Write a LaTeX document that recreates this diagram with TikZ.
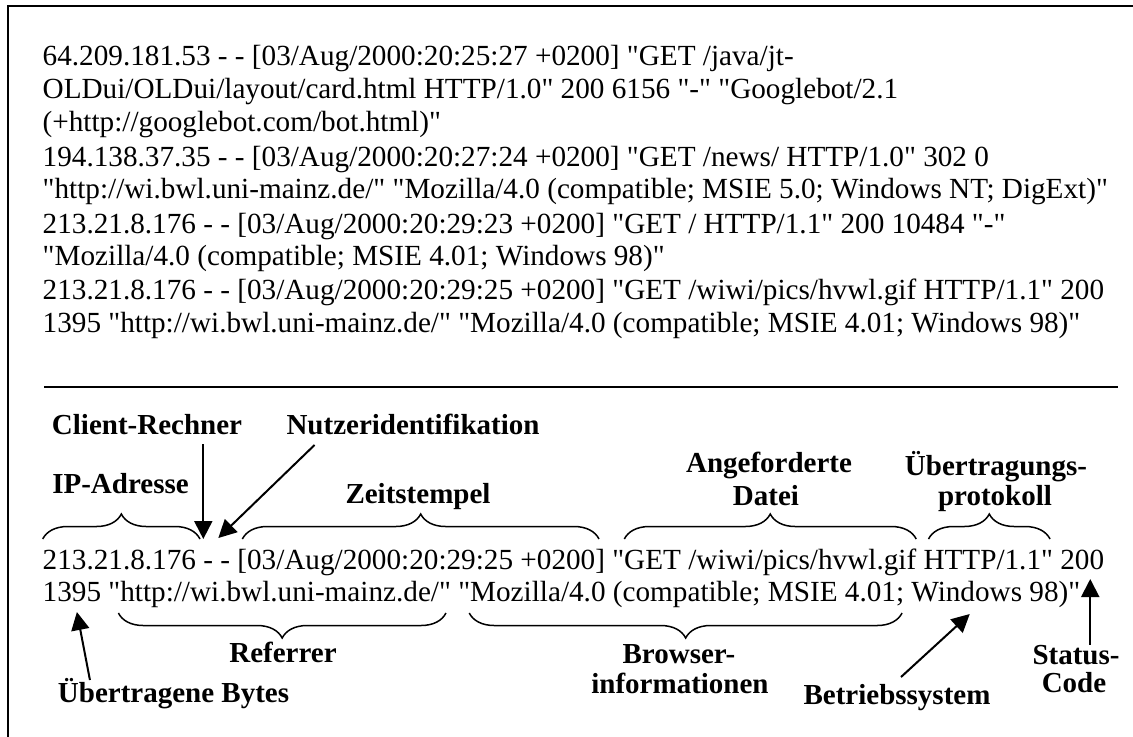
\documentclass[tikz,border=0pt]{standalone}
\usepackage{fontspec}
\setmainfont{Liberation Serif}[Ligatures=TeXOff]
\usetikzlibrary{arrows.meta,decorations.pathreplacing,calc}
\newlength\spw
\setlength\spw{3.65pt}
\begin{document}
\begin{tikzpicture}[x=0.5pt,y=0.5pt,
  txt/.style={inner sep=0pt,outer sep=0pt,anchor=base west,font=\fontsize{14.6}{16}\selectfont},
  lbl/.style={inner sep=0pt,outer sep=0pt,anchor=base,font=\fontsize{14.5}{16}\selectfont\bfseries},
  brc/.style={decorate,decoration={brace,amplitude=12.5pt},line width=0.75pt},
  brcd/.style={decorate,decoration={brace,mirror,amplitude=12.5pt},line width=0.75pt},
  arr/.style={line width=1pt,-{Triangle[length=9pt,width=9pt]}},
  rulestyle/.style={line width=1pt}]
\useasboundingbox (0,0) rectangle (1133,-736);
% frame
\draw[line width=1.1pt] (8,-740) -- (8,-6) -- (1140,-6);
% log lines
\node[txt] (l1) at (42.7,-65) {64.209.181.53 - - [03/Aug/2000:20:25:27 +0200] "GET /java/jt-};
\node[txt] (l2) at (42.7,-98.5) {OLDui/OLDui/layout/card.html HTTP/1.0" 200 6156 "-" "Googlebot/2.1};
\node[txt] (l3) at (42.7,-131) {(+http://googlebot.com/bot.html)"};
\node[txt] (l4) at (42.7,-166) {194.138.37.35 - - [03/Aug/2000:20:27:24 +0200] "GET /news/ HTTP/1.0" 302 0};
\node[txt] (l5) at (42.7,-198) {"http://wi.bwl.uni-mainz.de/" "Mozilla/4.0 (compatible; MSIE 5.0; Windows NT; DigExt)"};
\node[txt] (l6) at (42.7,-233) {213.21.8.176 - - [03/Aug/2000:20:29:23 +0200] "GET / HTTP/1.1" 200 10484 "-"};
\node[txt] (l7) at (42.7,-265) {"Mozilla/4.0 (compatible; MSIE 4.01; Windows 98)"};
\node[txt] (l8) at (42.7,-299) {213.21.8.176 - - [03/Aug/2000:20:29:25 +0200] "GET /wiwi/pics/hvwl.gif HTTP/1.1" 200};
\node[txt] (l9) at (42.7,-332) {1395 "http://wi.bwl.uni-mainz.de/" "Mozilla/4.0 (compatible; MSIE 4.01; Windows 98)"};
% rule
\draw[rulestyle] (44,-387) -- (1118,-387);
% annotated entry, line 1
\node[txt] (ip) at (42.7,-569) {213.21.8.176};
\node[txt] (d1) at ([xshift=\spw]ip.base east) {-};
\node[txt] (d2) at ([xshift=\spw]d1.base east) {-};
\node[txt] (ts) at ([xshift=\spw]d2.base east) {[03/Aug/2000:20:29:25 +0200]};
\node[txt] (req) at ([xshift=\spw]ts.base east) {"GET /wiwi/pics/hvwl.gif};
\node[txt] (proto) at ([xshift=\spw]req.base east) {HTTP/1.1"};
\node[txt] (st) at ([xshift=\spw]proto.base east) {200};
% line 2
\node[txt] (byt) at (42.7,-601) {1395};
\node[txt] (ref) at ([xshift=\spw]byt.base east) {"http://wi.bwl.uni-mainz.de/"};
\node[txt] (brw) at ([xshift=\spw]ref.base east) {"Mozilla/4.0 (compatible; MSIE 4.01;};
\node[txt] (win) at ([xshift=\spw]brw.base east) {Windows};
\node[txt] (rst) at ([xshift=\spw]win.base east) {98)"};
% braces
\draw[brc] ($(ip.base west)+(0,30)$) -- ($(ip.base east)+(4,30)$);
\draw[brc] ($(ts.base west)+(5,30)$) -- ($(ts.base east)+(-6,30)$);
\draw[brc] ($(req.base west)+(12,30)$) -- ($(req.base east)+(0,30)$);
\draw[brc] ($(proto.base west)+(5,30)$) -- ($(proto.base east)+(-3,30)$);
\draw[brcd] ($(ref.base west)+(10,-12)$) -- ($(ref.base east)+(-5,-12)$);
\draw[brcd] ($(brw.base west)+(11,-12)$) -- ($(brw.base east)+(-2,-12)$);
% labels
\node[lbl] (crn) at (147,-434) {Client-Rechner};
\node[lbl] (nut) at (413,-434) {Nutzeridentifikation};
\node[lbl] (ipa) at (120.5,-493) {IP-Adresse};
\node[lbl] (zts) at (418,-503) {Zeitstempel};
\node[lbl] (ang1) at (769,-472) {Angeforderte};
\node[lbl] (ang2) at (766,-505) {Datei};
\node[lbl] (ueb1) at (996,-475) {Übertragungs-};
\node[lbl] (ueb2) at (995,-505) {protokoll};
\node[lbl] (rfr) at (283,-662) {Referrer};
\node[lbl] (byl) at (173.5,-702) {Übertragene Bytes};
\node[lbl] (bw1) at (679,-663) {Browser-};
\node[lbl] (bw2) at (680,-693) {informationen};
\node[lbl] (bts) at (897,-704) {Betriebssystem};
\node[lbl] (sc1) at (1076,-664) {Status-};
\node[lbl] (sc2) at (1074,-692) {Code};
% arrows
\draw[arr] ($(crn.base -| d1.base west)+(0,-10)$) -- ($(d1.base west)+(0,30)$);
\draw[arr] ($(nut.base west)+(28,-11)$) -- ($(d2.base west)+(-2,31)$);
\draw[arr] ($(byl.base west)+(32,22)$) -- ($(byt.base)+(5,-11)$);
\draw[arr] ($(bts.base)+(4,27)$) -- ($(win.base)+(3,-13)$);
\coordinate (sttip) at ($(st.base)+(8,-10)$);
\draw[arr] (sc1.north -| sttip) -- (sttip);
\end{tikzpicture}
\end{document}
